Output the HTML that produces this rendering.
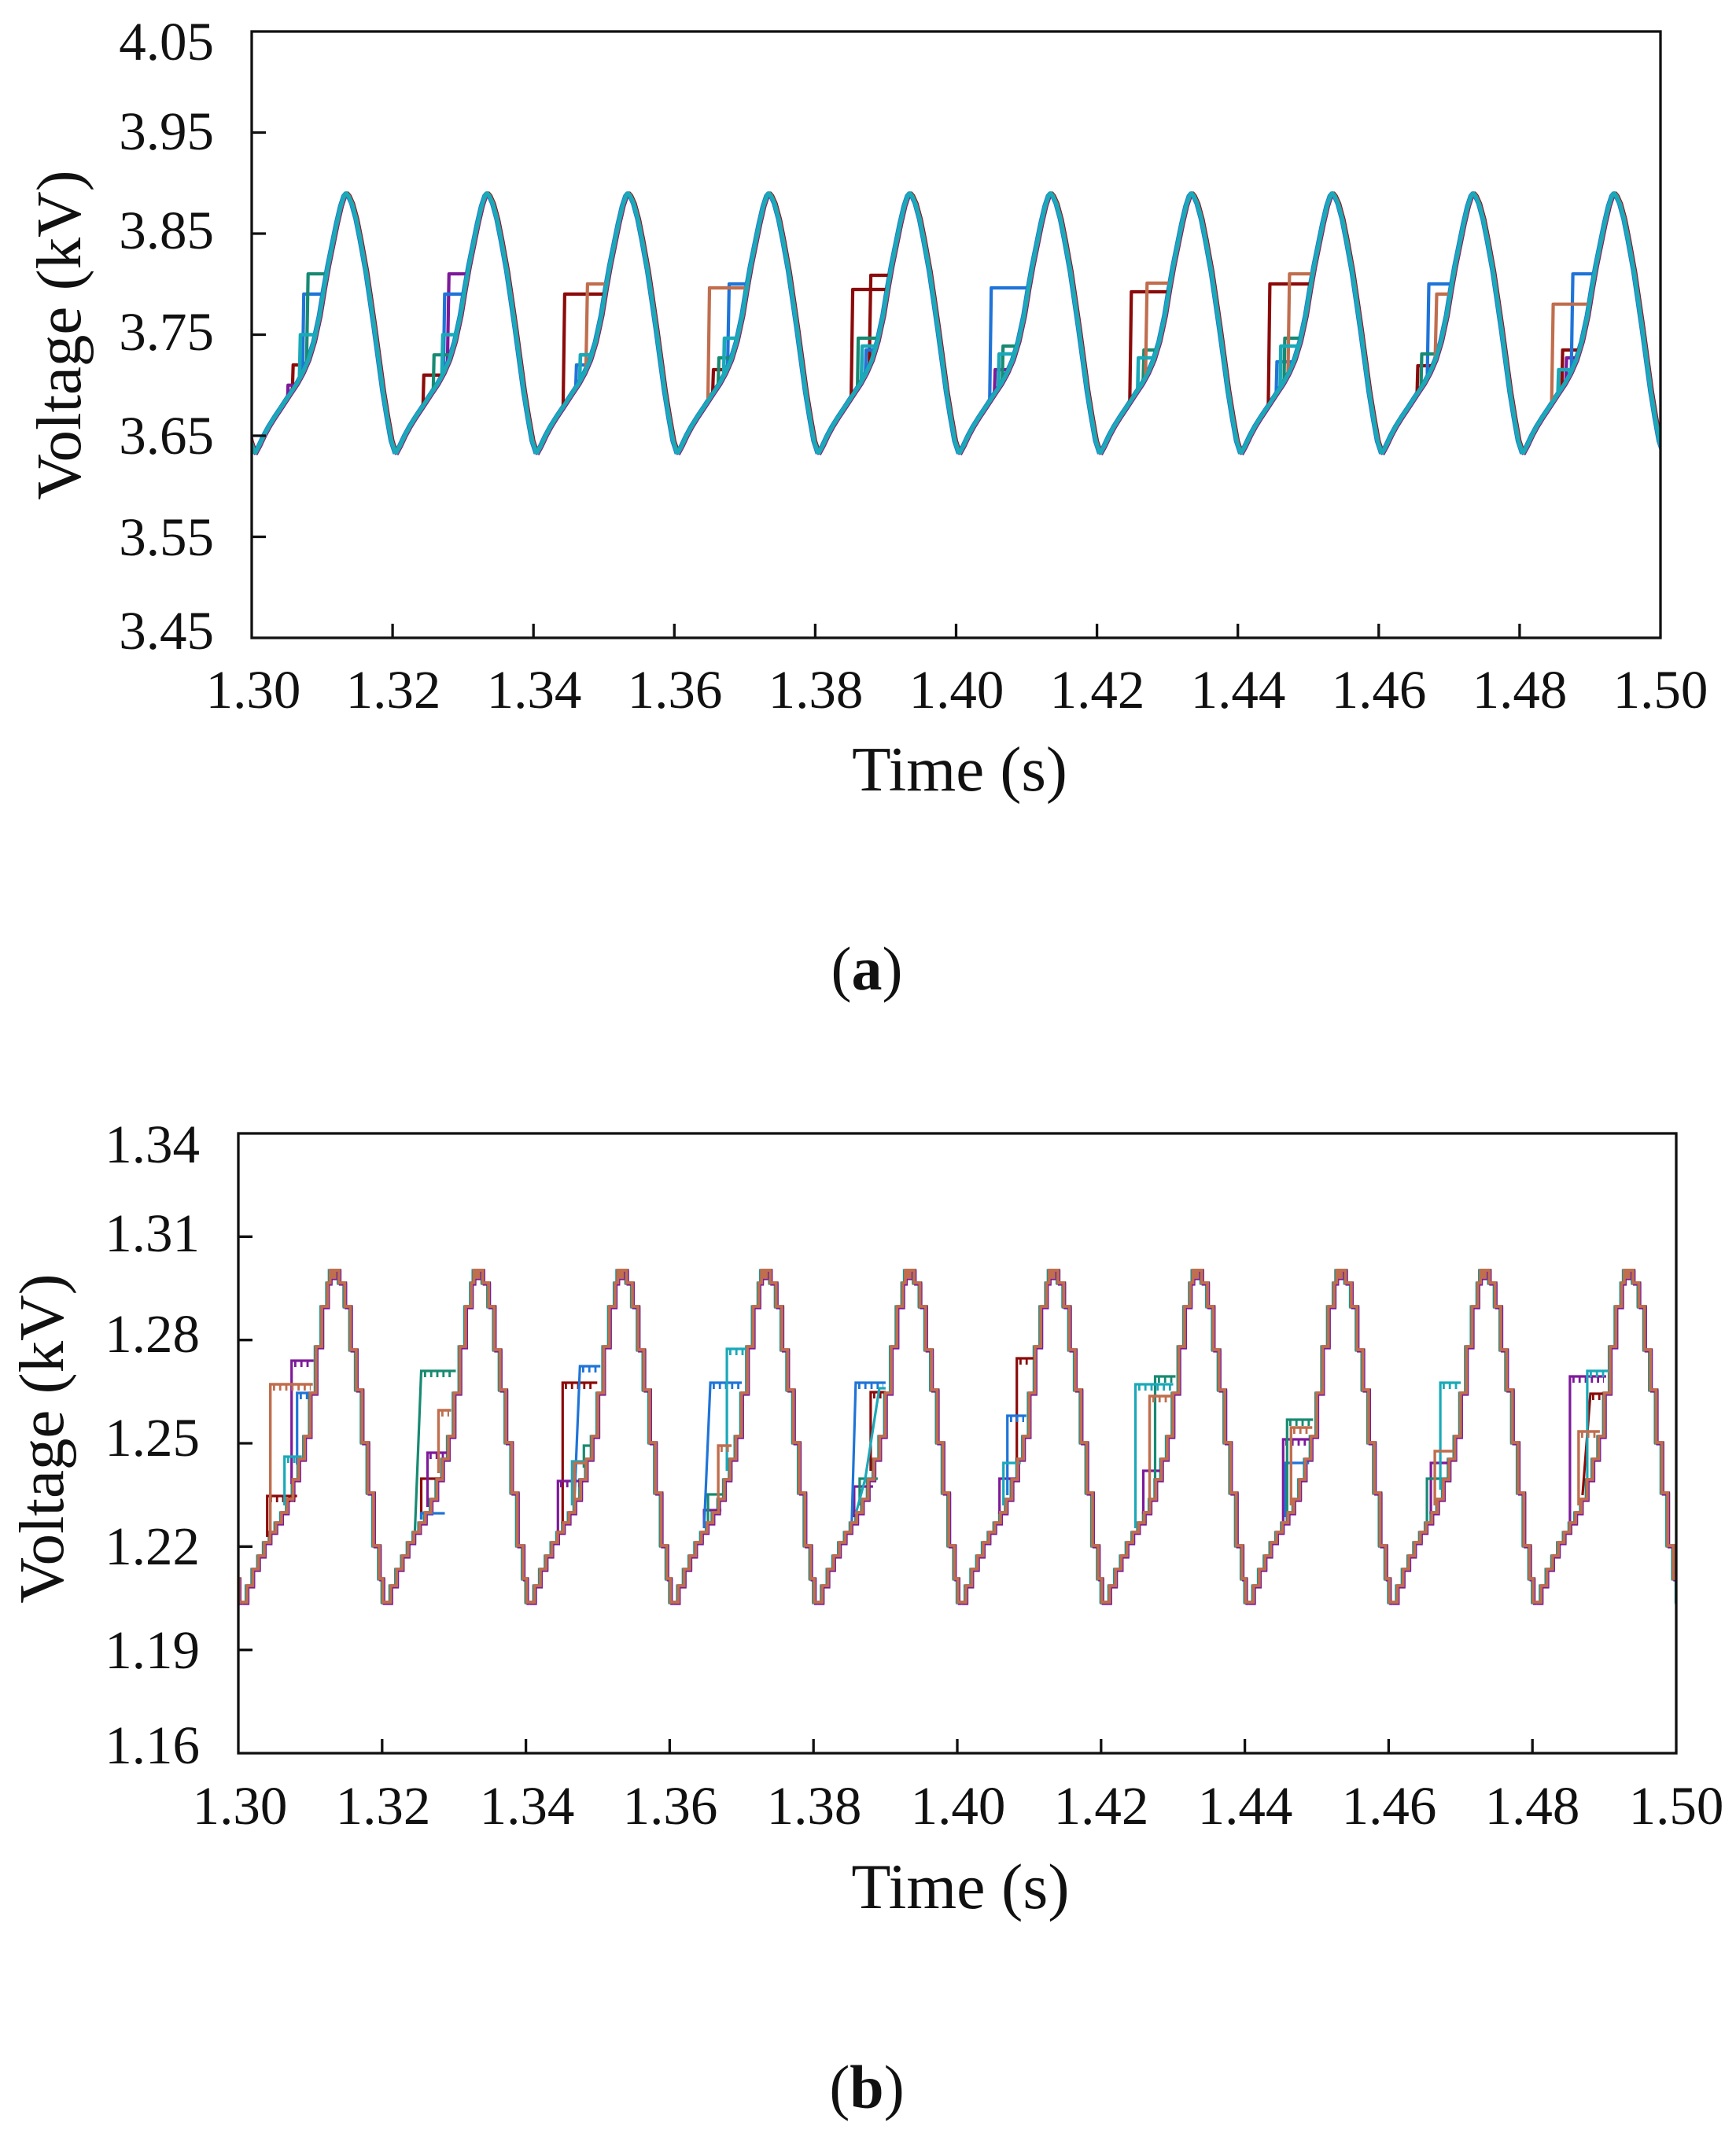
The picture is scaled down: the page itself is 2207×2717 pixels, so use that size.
<!DOCTYPE html>
<html>
<head>
<meta charset="utf-8">
<style>
  html, body { margin: 0; padding: 0; background: #ffffff; }
  svg { display: block; }
  text { font-family: "Liberation Serif", serif; fill: #111; }
</style>
</head>
<body>
<svg width="2207" height="2717" viewBox="0 0 2207 2717" xmlns="http://www.w3.org/2000/svg">
  <rect x="0" y="0" width="2207" height="2717" fill="#ffffff"/>
  <defs>
    <clipPath id="clipA"><rect x="320" y="40" width="1791" height="771"/></clipPath>
    <clipPath id="clipB"><rect x="303" y="1441" width="1828" height="788"/></clipPath>
    <path id="wa" fill="none" d="M0,577 L5.4,567.1 L11.6,553.8 L17.9,542.2 L25.1,530.6 L34,517.3 L44.8,500.8 L53.7,487.5 L60.9,474.3 L68.1,457.7 L75.2,434.5 L82.4,401.4 L87.8,368.2 L93.1,338.4 L98.5,311.9 L103.9,285.4 L109.3,262.2 L113.7,248.9 L116.4,245.6 L119.1,248.9 L123.6,258.9 L129,278.7 L134.3,305.3 L141.5,345 L146.9,381.5 L152.2,418 L157.6,457.7 L163,497.5 L168.4,530.6 L173.7,560.4 L179.1,577"/>
    <g id="ga">
      <use href="#wa" x="144.6"/><use href="#wa" x="323.7"/><use href="#wa" x="502.8"/>
      <use href="#wa" x="681.9"/><use href="#wa" x="861"/><use href="#wa" x="1040.1"/>
      <use href="#wa" x="1219.2"/><use href="#wa" x="1398.3"/><use href="#wa" x="1577.4"/>
      <use href="#wa" x="1756.5"/><use href="#wa" x="1935.6"/><use href="#wa" x="2114.7"/>
    </g>
    <path id="wb" fill="none" d="M0,2037 H7.3 V2016 H14.6 V1995 H21.9 V1978 H29.2 V1961 H36.6 V1948 H43.9 V1936 H51.2 V1923 H58.5 V1906 H65.8 V1881 H73.1 V1855 H80.4 V1826 H87.7 V1771 H95.1 V1712 H102.4 V1661 H109.7 V1631 H113 V1615 H116 V1624 H119 V1615 H124.3 V1631 H131.6 V1661 H138.9 V1716 H146.2 V1767 H153.6 V1834 H160.9 V1898 H168.2 V1965 H175.5 V2007 H180 V2037 H182.8"/>
    <g id="gb">
      <use href="#wb" x="123.9"/><use href="#wb" x="306.7"/><use href="#wb" x="489.5"/>
      <use href="#wb" x="672.3"/><use href="#wb" x="855.1"/><use href="#wb" x="1037.9"/>
      <use href="#wb" x="1220.7"/><use href="#wb" x="1403.5"/><use href="#wb" x="1586.3"/>
      <use href="#wb" x="1769.1"/><use href="#wb" x="1951.9"/><use href="#wb" x="2134.7"/>
    </g>
  </defs>

  <!-- ================= PLOT A ================= -->
  <g clip-path="url(#clipA)" fill="none" stroke-linejoin="round" stroke-linecap="butt">
    <use href="#ga" x="2" y="0" stroke="#8b0a0a" stroke-width="4.4"/>
    <use href="#ga" x="1.5" y="1" stroke="#7d1a9a" stroke-width="4.4"/>
    <use href="#ga" x="-1.2" y="0" stroke="#1f74d8" stroke-width="4.4"/>
    <use href="#ga" x="1" y="0" stroke="#178a72" stroke-width="4.4"/>
    <use href="#ga" x="0.6" y="0" stroke="#c06e4e" stroke-width="4.4"/>

    <!-- steps: dark red -->
    <path stroke="#8b0a0a" stroke-width="4.2" d="M371.7,496 L372.7,464 H389
      M537.8,515.8 L538.8,476.9 H562.2
      M715.9,517.3 L717.9,373.9 H768.8
      M906,500.5 L907,470 H923
      M1082.1,505.2 L1084.1,368 H1127.9
      M1105.1,464.8 L1107.1,350 H1131.3
      M1436.3,511.2 L1438.3,371 H1485.6
      M1612.4,515.8 L1614.4,361 H1666.6
      M1801.5,500.5 L1802.5,465 H1821.5
      M1985.6,493.1 L1986.6,445 H2007.6"/>
    <!-- steps: purple -->
    <path stroke="#7d1a9a" stroke-width="4.2" d="M365.7,505.2 L366.2,489.7 H376
      M568.8,462.2 L570.8,348.2 H594.3
      M1264.2,500.5 L1265.2,470 H1281.2
      M1990.6,485 L1991.6,455 H2004.6"/>
    <!-- steps: blue -->
    <path stroke="#1f74d8" stroke-width="4.2" d="M384.7,474.3 L386.2,373.9 H410.6
      M563.8,474.3 L565.3,373.9 H589.7
      M731.9,493.1 L732.9,464 H747.2
      M925,466.2 L927,361 H950.2
      M1100.1,476 L1101.1,445 H1112.1
      M1258.2,509.6 L1260.2,366 H1307.5
      M1622.4,500.5 L1623.4,460 H1644.4
      M1814.5,479.7 L1816.5,361 H1845.7
      M1997.6,471.5 L1999.6,348.2 H2027.1"/>
    <!-- steps: teal -->
    <path stroke="#178a72" stroke-width="4.2" d="M389.7,462.2 L391.7,348.2 H415.2
      M550.8,496 L551.8,451.2 H573.3
      M913,490.1 L914,455 H930
      M1090.1,493.1 L1091.1,430 H1115.6
      M1274.2,485 L1275.2,440 H1292.2
      M1453.3,485 L1454.3,445 H1470.3
      M1632.4,485 L1633.4,430 H1652.9
      M1806.5,493.1 L1807.5,450 H1827.3"/>
    <!-- steps: orange -->
    <path stroke="#c06e4e" stroke-width="4.2" d="M744.9,468.9 L746.9,361 H771.1
      M900,509.6 L902,366 H949.3
      M1456.3,479.7 L1458.3,360 H1487.7
      M1637.4,476 L1639.4,348.2 H1668.9
      M1824.5,457.9 L1826.5,373.9 H1843.4
      M1972.6,512.7 L1974.6,386.7 H2020.4"/>
    <!-- steps: cyan -->
    <path stroke="#1aa9b8" stroke-width="4.6" d="M380.7,481.5 L382,425.5 H400.4
      M561.8,477.9 L563,425.5 H579.5
      M736.9,485 L737.9,451.2 H752.4
      M920,477.9 L921,430 H936.5
      M1095.1,485 L1096.1,440 H1113.1
      M1269.2,493.1 L1270.2,450 H1290
      M1446.3,496 L1447.3,455 H1467.3
      M1627.4,493.1 L1628.4,440 H1650.4
      M1980.6,500.5 L1981.6,470 H1997.6"/>

    <use href="#ga" x="0" y="0" stroke="#1aa9b8" stroke-width="5"/>
  </g>

  <!-- axes A -->
  <g stroke="#111" stroke-width="3.3" fill="none">
    <rect x="320" y="40" width="1791" height="771"/>
    <path d="M499.1,811 V793 M678.2,811 V793 M857.3,811 V793 M1036.4,811 V793 M1215.5,811 V793 M1394.6,811 V793 M1573.7,811 V793 M1752.8,811 V793 M1931.9,811 V793"/>
    <path d="M320,168.5 H338 M320,297 H338 M320,425.5 H338 M320,554 H338 M320,682.5 H338"/>
  </g>
  <g font-size="69" text-anchor="end">
    <text x="272" y="76">4.05</text>
    <text x="272" y="190">3.95</text>
    <text x="272" y="316">3.85</text>
    <text x="272" y="445">3.75</text>
    <text x="272" y="577">3.65</text>
    <text x="272" y="706">3.55</text>
    <text x="272" y="825">3.45</text>
  </g>
  <g font-size="69" text-anchor="middle">
    <text x="322" y="900">1.30</text>
    <text x="500" y="900">1.32</text>
    <text x="679" y="900">1.34</text>
    <text x="858" y="900">1.36</text>
    <text x="1037" y="900">1.38</text>
    <text x="1216" y="900">1.40</text>
    <text x="1395" y="900">1.42</text>
    <text x="1574" y="900">1.44</text>
    <text x="1753" y="900">1.46</text>
    <text x="1932" y="900">1.48</text>
    <text x="2111" y="900">1.50</text>
  </g>
  <text x="1220" y="1005" font-size="81" text-anchor="middle">Time (s)</text>
  <text transform="translate(102,426) rotate(-90)" font-size="81" text-anchor="middle">Voltage (kV)</text>
  <text x="1102" y="1258" font-size="78" text-anchor="middle">(<tspan font-weight="bold">a</tspan>)</text>

  <!-- ================= PLOT B ================= -->
  <g clip-path="url(#clipB)" fill="none" stroke-linejoin="miter" stroke-linecap="butt">
    <use href="#gb" x="-1.5" y="0" stroke="#1aa9b8" stroke-width="3.2"/>
    <use href="#gb" x="1.5" y="0" stroke="#1f74d8" stroke-width="3.2"/>
    <use href="#gb" x="-1" y="1" stroke="#178a72" stroke-width="3.2"/>
    <use href="#gb" x="1" y="0" stroke="#8b0a0a" stroke-width="3.2"/>
    <use href="#gb" x="1.5" y="2" stroke="#7d1a9a" stroke-width="3.2"/>

    <!-- steps b: dark red -->
    <path stroke="#8b0a0a" stroke-width="3.2" d="M339.7,1954 V1902 H377.7
      M535.5,1932 V1880 H563.5
      M715.3,1937 V1758 H759.3
      M1106.9,1870 V1770 H1125.9
      M1292.7,1859 V1727 H1313.7
      M2011.9,1901 L2021.9,1772 H2037.9"/>
    <path stroke="#8b0a0a" stroke-width="8" stroke-dasharray="2.8 5" d="M343,1906 H375 M718,1762 H756 M1110,1774 H1123 M1296,1731 H1311 M2024,1776 H2035"/>
    <!-- steps b: purple -->
    <path stroke="#7d1a9a" stroke-width="3.2" d="M370.7,1887 V1730 H398.7
      M543.5,1916 V1847 H569.5
      M709.3,1947 V1883 H742.3
      M895.1,1943 V1920 H917.1
      M1085.9,1929 V1890 H1109.9
      M1270.7,1925 V1880 H1295.7
      M1453.5,1925 V1870 H1479.5
      M1631.3,1934 V1830 H1667.3
      M1819.1,1925 V1860 H1845.1
      M1995.9,1936 V1750 H2041.9"/>
    <path stroke="#7d1a9a" stroke-width="8" stroke-dasharray="2.8 5" d="M374,1734 H396 M546,1851 H567 M712,1887 H740 M1634,1834 H1665 M1999,1754 H2039"/>
    <!-- steps b: blue -->
    <path stroke="#1f74d8" stroke-width="3.2" d="M377.7,1862 V1771 H395.7
      M535.5,1932 V1924 H565.5
      M730.3,1907 L737.3,1737 H763.3
      M895.1,1943 L903.1,1758 H943.1
      M1082.9,1934 L1087.9,1758 H1125.9
      M1280.7,1901 V1800 H1304.7
      M1634.3,1929 V1860 H1664.3"/>
    <path stroke="#1f74d8" stroke-width="8" stroke-dasharray="2.8 5" d="M381,1775 H393 M740,1741 H761 M906,1762 H941 M1091,1762 H1123 M1284,1804 H1302"/>
    <!-- steps b: teal -->
    <path stroke="#178a72" stroke-width="3.2" d="M527.5,1946 L535.5,1743 H579.5
      M742.3,1866 V1838 H752.3
      M900.1,1934 V1900 H921.1
      M1092.9,1914 V1880 H1115.9
      M1468.5,1884 V1750 H1494.5
      M1636.3,1925 V1805 H1669.3
      M1814.1,1934 V1880 H1841.1"/>
    <path stroke="#178a72" stroke-width="8" stroke-dasharray="2.8 5" d="M539,1747 H577 M1472,1754 H1492 M1639,1809 H1667"/>
    <!-- steps b: cyan -->
    <path stroke="#1aa9b8" stroke-width="3.2" d="M361.7,1914 V1852 H383.7
      M727.3,1914 V1858 H745.3
      M924.1,1870 V1715 H951.1
      M1087.9,1925 L1100,1880 L1117.9,1765 H1125.9
      M1275.7,1914 V1860 H1297.7
      M1443.5,1943 V1760 H1491.5
      M1831.1,1894 V1758 H1857.1
      M2017.9,1880 V1743 H2046.9"/>
    <path stroke="#1aa9b8" stroke-width="8" stroke-dasharray="2.8 5" d="M365,1856 H381 M927,1719 H949 M1447,1764 H1489 M1834,1762 H1855 M2021,1747 H2044"/>
    <!-- steps b: orange -->
    <path stroke="#c06e4e" stroke-width="3.4" d="M343.7,1947 V1760 H397.7
      M557.5,1873 V1793 H573.5
      M730.3,1907 V1860 H746.3
      M913.1,1907 V1838 H930.1
      M1461.5,1907 V1775 H1489.5
      M1641.3,1914 V1815 H1668.3
      M1824.1,1914 V1845 H1847.1
      M2006.9,1914 V1820 H2033.9"/>
    <path stroke="#c06e4e" stroke-width="8" stroke-dasharray="2.8 5" d="M347,1764 H395 M561,1797 H571 M916,1842 H928 M1465,1779 H1487 M1644,1819 H1666 M2010,1824 H2031"/>

    <use href="#gb" x="0" y="0" stroke="#c06e4e" stroke-width="3.8"/>
  </g>

  <!-- axes B -->
  <g stroke="#111" stroke-width="3.3" fill="none">
    <rect x="303" y="1441" width="1828" height="788"/>
    <path d="M485.8,2229 V2211 M668.6,2229 V2211 M851.4,2229 V2211 M1034.2,2229 V2211 M1217,2229 V2211 M1399.8,2229 V2211 M1582.6,2229 V2211 M1765.4,2229 V2211 M1948.2,2229 V2211"/>
    <path d="M303,1572.3 H321 M303,1703.7 H321 M303,1835 H321 M303,1966.3 H321 M303,2097.7 H321"/>
  </g>
  <g font-size="69" text-anchor="end">
    <text x="254" y="1478">1.34</text>
    <text x="254" y="1591">1.31</text>
    <text x="254" y="1719">1.28</text>
    <text x="254" y="1851">1.25</text>
    <text x="254" y="1989">1.22</text>
    <text x="254" y="2121">1.19</text>
    <text x="254" y="2242">1.16</text>
  </g>
  <g font-size="69" text-anchor="middle">
    <text x="305" y="2319">1.30</text>
    <text x="487" y="2319">1.32</text>
    <text x="670" y="2319">1.34</text>
    <text x="852" y="2319">1.36</text>
    <text x="1035" y="2319">1.38</text>
    <text x="1218" y="2319">1.40</text>
    <text x="1400" y="2319">1.42</text>
    <text x="1583" y="2319">1.44</text>
    <text x="1766" y="2319">1.46</text>
    <text x="1948" y="2319">1.48</text>
    <text x="2131" y="2319">1.50</text>
  </g>
  <text x="1221" y="2426" font-size="82" text-anchor="middle">Time (s)</text>
  <text transform="translate(80,1829) rotate(-90)" font-size="81" text-anchor="middle">Voltage (kV)</text>
  <text x="1102" y="2680" font-size="78" text-anchor="middle">(<tspan font-weight="bold">b</tspan>)</text>
</svg>
</body>
</html>
